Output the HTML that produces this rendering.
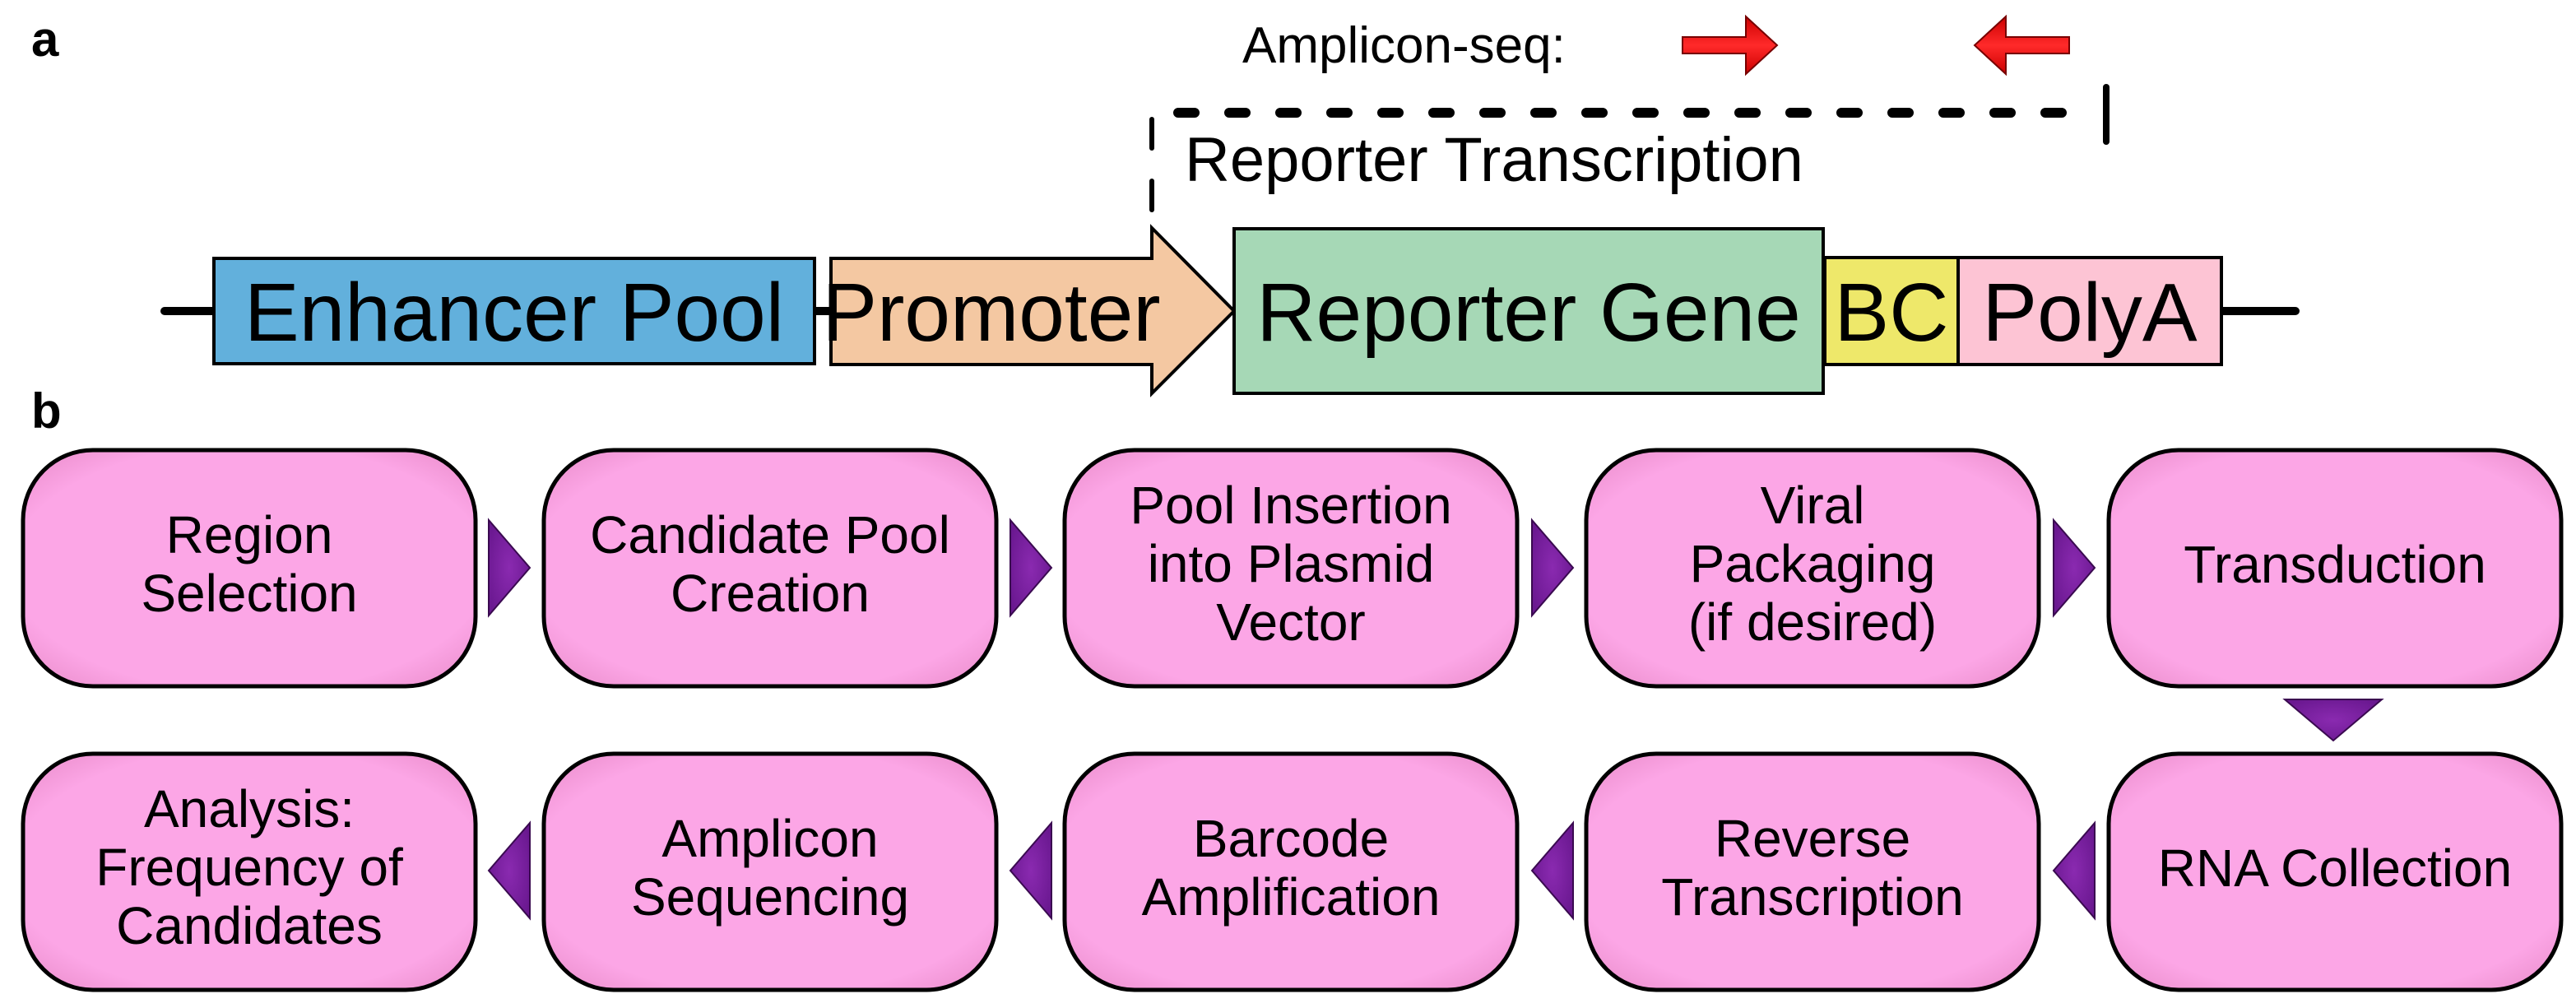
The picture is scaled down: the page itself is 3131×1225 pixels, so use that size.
<!DOCTYPE html>
<html><head><meta charset="utf-8"><style>
html,body{margin:0;padding:0;background:#fff;}
svg{display:block;}
text{font-family:"Liberation Sans",Arial,sans-serif;fill:#000;}
</style></head><body>
<svg width="3131" height="1225" viewBox="0 0 3131 1225" xmlns="http://www.w3.org/2000/svg">
<defs>
<radialGradient id="pk" cx="50%" cy="50%" r="70%">
<stop offset="0.75" stop-color="#fca6e6"/><stop offset="1" stop-color="#e88ac8"/>
</radialGradient>
<radialGradient id="pu" cx="50%" cy="50%" r="60%">
<stop offset="0" stop-color="#8a2ab0"/><stop offset="1" stop-color="#6a1890"/>
</radialGradient>
<linearGradient id="rd" x1="0" y1="0" x2="0" y2="1">
<stop offset="0" stop-color="#c00"/><stop offset="0.5" stop-color="#ff2a2a"/><stop offset="1" stop-color="#c00"/>
</linearGradient>
</defs>
<text x="38" y="68" font-size="60" font-weight="bold">a</text>
<text x="38" y="520" font-size="60" font-weight="bold">b</text>

<text x="1510" y="76" font-size="62">Amplicon-seq:</text>
<polygon points="2045,45 2122,45 2122,20 2160,55 2122,90 2122,65 2045,65" fill="url(#rd)" stroke="#700" stroke-width="2"/>
<polygon points="2515,45 2438,45 2438,20 2400,55 2438,90 2438,65 2515,65" fill="url(#rd)" stroke="#700" stroke-width="2"/>

<line x1="1432" y1="137" x2="2510" y2="137" stroke="#000" stroke-width="12" stroke-dasharray="20,42" stroke-linecap="round"/>
<line x1="2560" y1="106" x2="2560" y2="172" stroke="#000" stroke-width="8" stroke-linecap="round"/>
<line x1="1400" y1="145" x2="1400" y2="180" stroke="#000" stroke-width="6" stroke-linecap="round"/>
<line x1="1400" y1="220" x2="1400" y2="255" stroke="#000" stroke-width="6" stroke-linecap="round"/>
<text x="1440" y="220" font-size="76">Reporter Transcription</text>

<line x1="200" y1="378" x2="2790" y2="378" stroke="#000" stroke-width="10" stroke-linecap="round"/>
<rect x="260" y="314" width="730" height="128" fill="#62b0dc" stroke="#000" stroke-width="4"/>
<polygon points="1010,314 1400,314 1400,277 1500,378 1400,478 1400,443 1010,443" fill="#f4c8a2" stroke="#000" stroke-width="4"/>
<rect x="1500" y="278" width="716" height="200" fill="#a6d8b6" stroke="#000" stroke-width="4"/>
<rect x="2218" y="313" width="162" height="130" fill="#eee86a" stroke="#000" stroke-width="4"/>
<rect x="2380" y="313" width="320" height="130" fill="#fdc4d4" stroke="#000" stroke-width="4"/>
<g font-size="100">
<text x="625" y="414" text-anchor="middle">Enhancer Pool</text>
<text x="1205" y="414" text-anchor="middle">Promoter</text>
<text x="1858" y="414" text-anchor="middle">Reporter Gene</text>
<text x="2299" y="414" text-anchor="middle">BC</text>
<text x="2540" y="414" text-anchor="middle">PolyA</text>
</g>

<g fill="url(#pk)" stroke="#000" stroke-width="5">
<rect x="28" y="547" width="550" height="287" rx="85"/>
<rect x="661" y="547" width="550" height="287" rx="85"/>
<rect x="1294" y="547" width="550" height="287" rx="85"/>
<rect x="1928" y="547" width="550" height="287" rx="85"/>
<rect x="2563" y="547" width="550" height="287" rx="85"/>
<rect x="28" y="916" width="550" height="287" rx="85"/>
<rect x="661" y="916" width="550" height="287" rx="85"/>
<rect x="1294" y="916" width="550" height="287" rx="85"/>
<rect x="1928" y="916" width="550" height="287" rx="85"/>
<rect x="2563" y="916" width="550" height="287" rx="85"/>
</g>
<g fill="url(#pu)" stroke="#3a0a50" stroke-width="2">
<polygon points="594,632 644,690 594,748"/>
<polygon points="1228,632 1278,690 1228,748"/>
<polygon points="1862,632 1912,690 1862,748"/>
<polygon points="2496,632 2546,690 2496,748"/>
<polygon points="2777,850 2895,850 2836,900"/>
<polygon points="644,1000 594,1058 644,1116"/>
<polygon points="1278,1000 1228,1058 1278,1116"/>
<polygon points="1912,1000 1862,1058 1912,1116"/>
<polygon points="2546,1000 2496,1058 2546,1116"/>
</g>
<g font-size="64" text-anchor="middle">
<text x="303" y="672">Region</text><text x="303" y="743">Selection</text>
<text x="936" y="672">Candidate Pool</text><text x="936" y="743">Creation</text>
<text x="1569" y="636">Pool Insertion</text><text x="1569" y="707">into Plasmid</text><text x="1569" y="778">Vector</text>
<text x="2203" y="636">Viral</text><text x="2203" y="707">Packaging</text><text x="2203" y="778">(if desired)</text>
<text x="2838" y="708">Transduction</text>
<text x="303" y="1005">Analysis:</text><text x="303" y="1076">Frequency of</text><text x="303" y="1147">Candidates</text>
<text x="936" y="1041">Amplicon</text><text x="936" y="1112">Sequencing</text>
<text x="1569" y="1041">Barcode</text><text x="1569" y="1112">Amplification</text>
<text x="2203" y="1041">Reverse</text><text x="2203" y="1112">Transcription</text>
<text x="2838" y="1077">RNA Collection</text>
</g>
</svg>
</body></html>
